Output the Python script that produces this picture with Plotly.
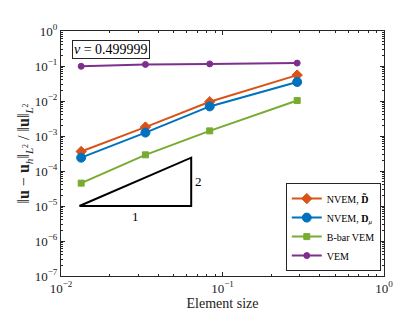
import numpy as np
import plotly.graph_objects as go

# ---- data ----
element_size = [1/75, 1/30, 1/12, 0.29]
err_nvem_dtilde = [3.6e-4, 1.8e-3, 9.5e-3, 5.5e-2]
err_nvem_dmu = [2.4e-4, 1.25e-3, 7.0e-3, 3.5e-2]
err_bbar = [4.5e-5, 2.9e-4, 1.4e-3, 1.03e-2]
err_vem = [0.098, 0.111, 0.115, 0.121]

triangle_x = [0.013, 0.064, 0.064, 0.013]
triangle_y = [1e-5, 1e-5, 2.4e-4, 1e-5]

x_tickvals = [0.01, 0.1, 1]
x_ticktext = ["10<sup>−2</sup>", "10<sup>−1</sup>", "10<sup>0</sup>"]
y_tickvals = [1e-7, 1e-6, 1e-5, 1e-4, 1e-3, 1e-2, 1e-1, 1]
y_ticktext = ["10<sup>−7</sup>", "10<sup>−6</sup>", "10<sup>−5</sup>", "10<sup>−4</sup>",
              "10<sup>−3</sup>", "10<sup>−2</sup>", "10<sup>−1</sup>", "10<sup>0</sup>"]

series_names = ["NVEM, <b>D̃</b>", "NVEM, <b>D</b><sub><i>μ</i></sub>", "B-bar VEM", "VEM"]
series_colors = ["#D95319", "#0072BD", "#77AC30", "#7E2F8E"]
series_symbols = ["diamond", "circle", "square", "circle"]
series_sizes = [8, 9, 6, 6]

FONT = "Liberation Serif, Times New Roman, DejaVu Serif, serif"
AX = "#262626"

fig = go.Figure()
for name, ys, col, sym, sz in zip(series_names,
                                   [err_nvem_dtilde, err_nvem_dmu, err_bbar, err_vem],
                                   series_colors, series_symbols, series_sizes):
    fig.add_trace(go.Scatter(
        x=element_size, y=ys, name=name, mode="lines+markers",
        line=dict(color=col, width=2),
        marker=dict(symbol=sym, size=sz, color=col,
                    line=dict(color=col, width=1)),
    ))

fig.add_trace(go.Scatter(x=triangle_x, y=triangle_y, mode="lines",
                         line=dict(color="black", width=2),
                         showlegend=False, hoverinfo="skip"))

def minor_vals(lo, hi):
    vals = []
    for e in range(lo, hi):
        for k in range(2, 10):
            vals.append(k * 10.0 ** e)
    return vals

axis_common = dict(
    type="log", showgrid=False, zeroline=False,
    showline=True, linecolor=AX, linewidth=1, mirror="ticks",
    ticks="inside", ticklen=4, tickcolor=AX, tickwidth=1,
    tickfont=dict(family=FONT, size=13, color="#222"),
    tickmode="array",
)

fig.update_xaxes(**axis_common, range=[-2, 0],
                 tickvals=x_tickvals, ticktext=x_ticktext,
                 minor=dict(tickmode="array", tickvals=minor_vals(-2, 0),
                            ticks="inside", ticklen=2, tickcolor=AX, showgrid=False),
                 title=dict(text="Element size", font=dict(family=FONT, size=14, color="#222"),
                            standoff=3))
fig.update_yaxes(**axis_common, range=[-7, 0],
                 tickvals=y_tickvals, ticktext=y_ticktext,
                 minor=dict(tickmode="array", tickvals=minor_vals(-7, 0),
                            ticks="inside", ticklen=2, tickcolor=AX, showgrid=False),
                 title=dict(text="‖<b>u</b> − <b>u</b><sub><i>h</i></sub>‖<sub><i>L</i><sup>2</sup></sub> / ‖<b>u</b>‖<sub><i>L</i><sup>2</sup></sub>",
                            font=dict(family=FONT, size=16, color="#222"), standoff=0))

# slope triangle labels
fig.add_annotation(x=np.log10(np.sqrt(triangle_x[0] * triangle_x[1])), y=np.log10(triangle_y[0]),
                   text="1", showarrow=False, yshift=-10,
                   font=dict(family=FONT, size=13, color="black"))
fig.add_annotation(x=np.log10(triangle_x[1]), y=np.log10(np.sqrt(triangle_y[1] * triangle_y[2])),
                   text="2", showarrow=False, xshift=7,
                   font=dict(family=FONT, size=13, color="black"))

# nu box
fig.add_annotation(xref="paper", yref="paper", x=0.033, y=0.965, xanchor="left", yanchor="top",
                   text="<i>ν</i> = 0.499999", showarrow=False,
                   bordercolor=AX, borderwidth=1, borderpad=1, bgcolor="white",
                   font=dict(family=FONT, size=14, color="black"))

fig.update_layout(
    width=415, height=312,
    margin=dict(l=53, r=39, t=23, b=39),
    paper_bgcolor="white", plot_bgcolor="white",
    font=dict(family=FONT, color="#222"),
    legend=dict(x=0.99, y=0.02, xanchor="right", yanchor="bottom",
                bgcolor="white", bordercolor=AX, borderwidth=1,
                font=dict(family=FONT, size=10, color="black"),
                tracegroupgap=0, itemwidth=30),
    showlegend=True,
)

fig.write_html("out.html")
